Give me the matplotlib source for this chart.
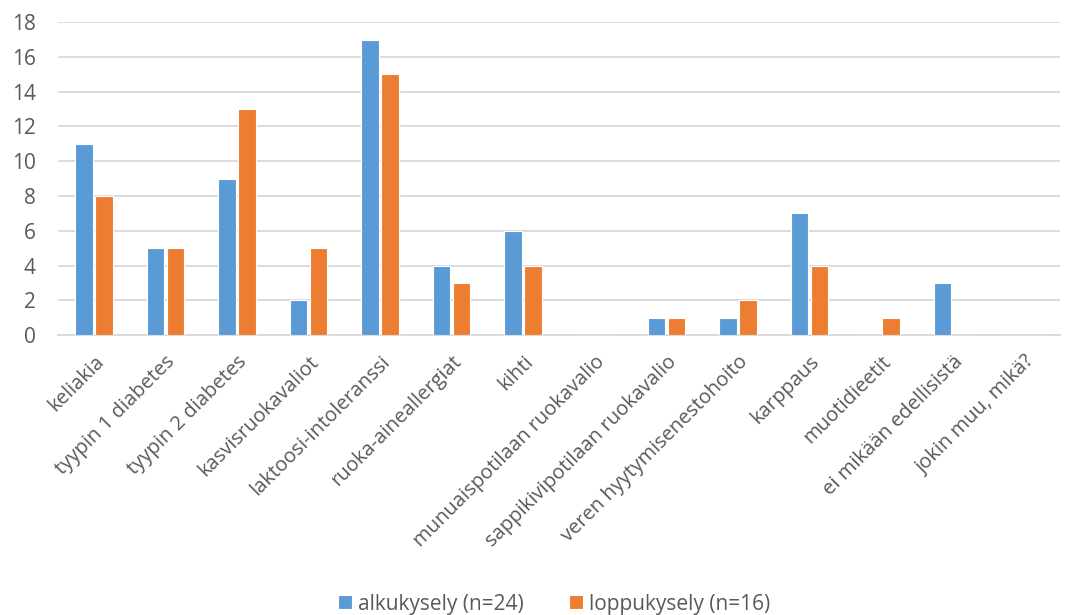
import numpy as np
import matplotlib.pyplot as plt

plt.rcParams['font.family'] = ['Open Sans', 'DejaVu Sans']

categories = ["keliakia", "tyypin 1 diabetes", "tyypin 2 diabetes", "kasvisruokavaliot",
              "laktoosi-intoleranssi", "ruoka-aineallergiat", "kihti",
              "munuaispotilaan ruokavalio", "sappikivipotilaan ruokavalio",
              "veren hyytymisenestohoito", "karppaus", "muotidieetit",
              "ei mikään edellisistä", "jokin muu, mikä?"]
alku = [11, 5, 9, 2, 17, 4, 6, 0, 1, 1, 7, 0, 3, 0]
loppu = [8, 5, 13, 5, 15, 3, 4, 0, 1, 2, 4, 1, 0, 0]
series_names = ["alkukysely (n=24)", "loppukysely (n=16)"]

text_col = '#595959'
grid_col = '#d9d9d9'

fig = plt.figure(figsize=(10.74, 6.15), dpi=100)
ax = fig.add_axes([0.054, 0.455, 0.933, 0.509])

x = np.arange(len(categories))
w = 0.245
ax.bar(x - 0.14, alku, w, color='#5B9BD5', edgecolor='white', linewidth=0.8,
       label=series_names[0], zorder=3)
ax.bar(x + 0.14, loppu, w, color='#ED7D31', edgecolor='white', linewidth=0.8,
       label=series_names[1], zorder=3)

ax.set_xlim(-0.5, len(categories) - 0.5)
ax.set_ylim(0, 18)
ax.set_yticks(range(0, 19, 2))
ax.yaxis.grid(True, color=grid_col, linewidth=1.3, zorder=0)
ax.set_axisbelow(True)
for s in ['top', 'right', 'left']:
    ax.spines[s].set_visible(False)
ax.spines['bottom'].set_color(grid_col)
ax.spines['bottom'].set_linewidth(1.3)
ax.tick_params(axis='both', length=0, colors=text_col)
ax.tick_params(axis='y', pad=16, labelsize=15)
ax.set_xticks(x)
ax.set_xticklabels(categories, rotation=45, ha='right', rotation_mode='anchor', fontsize=14.5)
ax.tick_params(axis='x', pad=12)

# legend centred under the plot area
leg = fig.legend(loc='lower center', bbox_to_anchor=(0.516, -0.03), ncol=2, frameon=False,
                 fontsize=15, handlelength=0.65, handleheight=0.65,
                 handletextpad=0.3, columnspacing=2.2)
for t in leg.get_texts():
    t.set_color(text_col)

fig.savefig('out.png', dpi=100)
